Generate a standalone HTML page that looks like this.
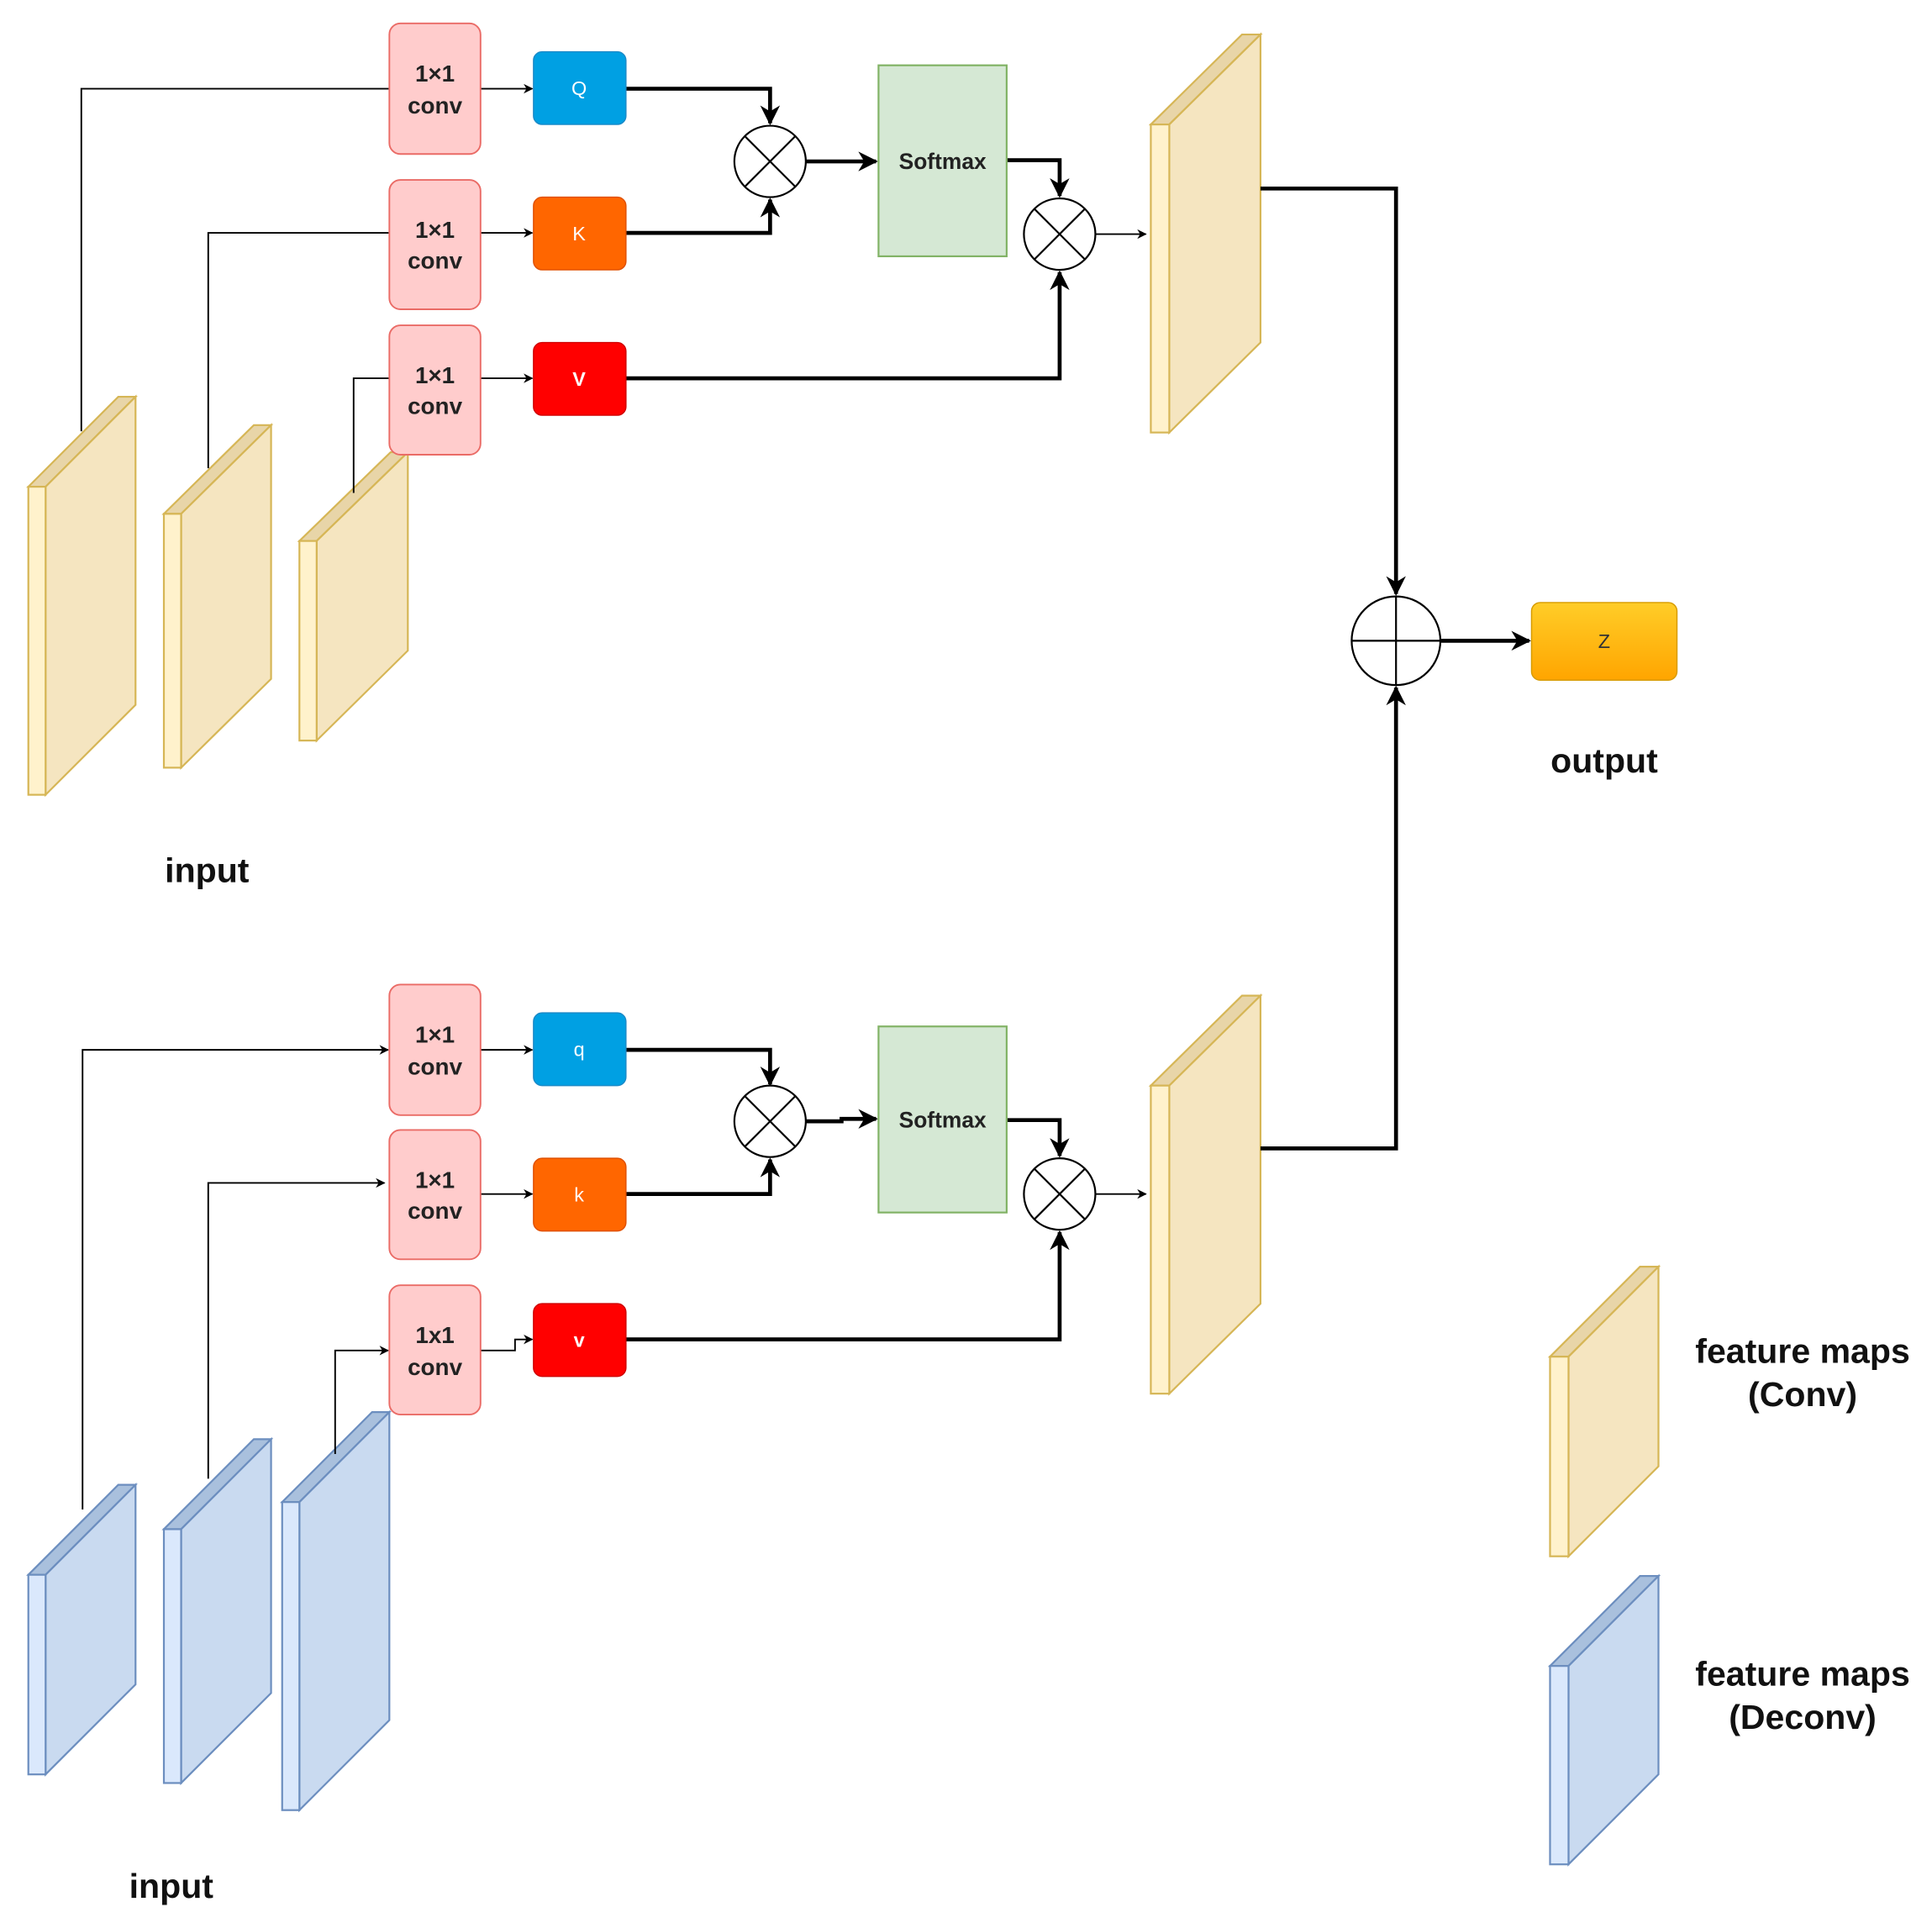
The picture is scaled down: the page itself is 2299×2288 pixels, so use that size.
<!DOCTYPE html>
<html><head><meta charset="utf-8"><style>html,body{margin:0;padding:0;background:#fff}svg{display:block}</style></head>
<body>
<svg width="2299" height="2288" viewBox="0 0 1568 1560.6" preserveAspectRatio="none" xmlns="http://www.w3.org/2000/svg" font-family="Liberation Sans, sans-serif">
<defs>
<marker id="a" viewBox="0 0 10 10" refX="9" refY="5" markerWidth="5" markerHeight="5" orient="auto"><path d="M0,0 L10,5 L0,10 L3,5 z" fill="#000"/></marker>
<marker id="b" viewBox="0 0 10 10" refX="9" refY="5" markerWidth="6" markerHeight="6" orient="auto"><path d="M0,0 L10,5 L0,10 L3,5 z" fill="#000"/></marker>
<linearGradient id="g" x1="0" y1="0" x2="0" y2="1"><stop offset="0" stop-color="#ffcd28"/><stop offset="1" stop-color="#ffa500"/></linearGradient>
</defs>
<g id="maps">
<g stroke="#d6b656" stroke-width="1.5">
<polygon points="23,395 37,395 110,322 96,322" fill="#e8d5a8"/><polygon points="37,395 110,322 110,572 37,645" fill="#f5e5c0"/><rect x="23" y="395" width="14" height="250" fill="#fff2cc"/>
<polygon points="133,417 147,417 220,345 206,345" fill="#e8d5a8"/><polygon points="147,417 220,345 220,551 147,623" fill="#f5e5c0"/><rect x="133" y="417" width="14" height="206" fill="#fff2cc"/>
<polygon points="243,439 257,439 331,367 317,367" fill="#e8d5a8"/><polygon points="257,439 331,367 331,528 257,601" fill="#f5e5c0"/><rect x="243" y="439" width="14" height="162" fill="#fff2cc"/>
<polygon points="934,101 949,101 1023,28 1008,28" fill="#e8d5a8"/><polygon points="949,101 1023,28 1023,278 949,351" fill="#f5e5c0"/><rect x="934" y="101" width="15" height="250" fill="#fff2cc"/>
<polygon points="934,881 949,881 1023,808 1008,808" fill="#e8d5a8"/><polygon points="949,881 1023,808 1023,1058 949,1131" fill="#f5e5c0"/><rect x="934" y="881" width="15" height="250" fill="#fff2cc"/>
<polygon points="1258,1101 1273,1101 1346,1028 1331,1028" fill="#e8d5a8"/><polygon points="1273,1101 1346,1028 1346,1190 1273,1263" fill="#f5e5c0"/><rect x="1258" y="1101" width="15" height="162" fill="#fff2cc"/>
</g>
<g stroke="#6c8ebf" stroke-width="1.5">
<polygon points="23,1278 37,1278 110,1205 96,1205" fill="#a9c0dd"/><polygon points="37,1278 110,1205 110,1367 37,1440" fill="#c9daf0"/><rect x="23" y="1278" width="14" height="162" fill="#dae8fc"/>
<polygon points="133,1241 147,1241 220,1168 206,1168" fill="#a9c0dd"/><polygon points="147,1241 220,1168 220,1374 147,1447" fill="#c9daf0"/><rect x="133" y="1241" width="14" height="206" fill="#dae8fc"/>
<polygon points="229,1219 243,1219 316,1146 302,1146" fill="#a9c0dd"/><polygon points="243,1219 316,1146 316,1396 243,1469" fill="#c9daf0"/><rect x="229" y="1219" width="14" height="250" fill="#dae8fc"/>
<polygon points="1258,1352 1273,1352 1346,1279 1331,1279" fill="#a9c0dd"/><polygon points="1273,1352 1346,1279 1346,1440 1273,1513" fill="#c9daf0"/><rect x="1258" y="1352" width="15" height="161" fill="#dae8fc"/>
</g>
</g>
<g fill="none" stroke="#000" stroke-width="1.3">
<polyline points="66,350 66,72 316,72"/><polyline points="169,380 169,189 316,189"/><polyline points="287,400 287,307 316,307"/>
<line x1="390" y1="72" x2="432" y2="72" marker-end="url(#b)"/><line x1="390" y1="189" x2="432" y2="189" marker-end="url(#b)"/><line x1="390" y1="307" x2="432" y2="307" marker-end="url(#b)"/>
<line x1="889" y1="190" x2="930" y2="190" marker-end="url(#b)"/>
<polyline points="67,1225 67,852 315,852" marker-end="url(#b)"/><polyline points="169,1200 169,960 312,960" marker-end="url(#b)"/><polyline points="272,1180 272,1096 315,1096" marker-end="url(#b)"/>
<line x1="390" y1="852" x2="432" y2="852" marker-end="url(#b)"/><line x1="390" y1="969" x2="432" y2="969" marker-end="url(#b)"/>
<polyline points="390,1096 418,1096 418,1087 432,1087" marker-end="url(#b)"/>
<line x1="889" y1="969" x2="930" y2="969" marker-end="url(#b)"/>
</g>
<g fill="none" stroke="#000" stroke-width="3.2">
<polyline points="508,72 625,72 625,100" marker-end="url(#a)"/><polyline points="508,189 625,189 625,162" marker-end="url(#a)"/>
<line x1="654" y1="131" x2="711" y2="131" marker-end="url(#a)"/>
<polyline points="817,130 860,130 860,159" marker-end="url(#a)"/><polyline points="508,307 860,307 860,221" marker-end="url(#a)"/>
<polyline points="1023,153 1133,153 1133,482" marker-end="url(#a)"/><polyline points="1023,932 1133,932 1133,558" marker-end="url(#a)"/>
<line x1="1169" y1="520" x2="1241" y2="520" marker-end="url(#a)"/>
<polyline points="508,852 625,852 625,880" marker-end="url(#a)"/><polyline points="508,969 625,969 625,941" marker-end="url(#a)"/>
<polyline points="654,910 683,910 683,908 711,908" marker-end="url(#a)"/>
<polyline points="817,909 860,909 860,938" marker-end="url(#a)"/><polyline points="508,1087 860,1087 860,1000" marker-end="url(#a)"/>
</g>
<g fill="#ffcccc" stroke="#ea6b66" stroke-width="1.3">
<rect x="316" y="19" width="74" height="106" rx="9"/><rect x="316" y="146" width="74" height="105" rx="9"/><rect x="316" y="264" width="74" height="105" rx="9"/>
<rect x="316" y="799" width="74" height="106" rx="9"/><rect x="316" y="917" width="74" height="105" rx="9"/><rect x="316" y="1043" width="74" height="105" rx="9"/>
</g>
<g font-size="19" font-weight="bold" text-anchor="middle" fill="#222">
<text x="353" y="66">1×1</text><text x="353" y="92">conv</text>
<text x="353" y="193">1×1</text><text x="353" y="218">conv</text>
<text x="353" y="311">1×1</text><text x="353" y="336">conv</text>
<text x="353" y="846">1×1</text><text x="353" y="872">conv</text>
<text x="353" y="964">1×1</text><text x="353" y="989">conv</text>
<text x="353" y="1090">1x1</text><text x="353" y="1116">conv</text>
</g>
<rect x="433" y="42" width="75" height="59" rx="7" fill="#00a0e3" stroke="#1b8ac8"/>
<rect x="433" y="160" width="75" height="59" rx="7" fill="#ff6600" stroke="#e05000"/>
<rect x="433" y="278" width="75" height="59" rx="7" fill="#ff0000" stroke="#d00000"/>
<rect x="433" y="822" width="75" height="59" rx="7" fill="#00a0e3" stroke="#1b8ac8"/>
<rect x="433" y="940" width="75" height="59" rx="7" fill="#ff6600" stroke="#e05000"/>
<rect x="433" y="1058" width="75" height="59" rx="7" fill="#ff0000" stroke="#d00000"/>
<g font-size="16" text-anchor="middle" fill="#fff">
<text x="470" y="77">Q</text><text x="470" y="195">K</text><text x="470" y="313" font-weight="bold">V</text>
<text x="470" y="857">q</text><text x="470" y="975">k</text><text x="470" y="1093" font-weight="bold">v</text>
</g>
<rect x="713" y="53" width="104" height="155" fill="#d5e8d4" stroke="#82b366" stroke-width="1.5"/>
<rect x="713" y="833" width="104" height="151" fill="#d5e8d4" stroke="#82b366" stroke-width="1.5"/>
<g font-size="18" font-weight="bold" text-anchor="middle" fill="#222"><text x="765" y="137">Softmax</text><text x="765" y="915">Softmax</text></g>
<g fill="#fff" stroke="#000" stroke-width="1.5">
<circle cx="625" cy="131" r="29"/><path d="M604.5,110.5 L645.5,151.5 M645.5,110.5 L604.5,151.5"/>
<circle cx="860" cy="190" r="29"/><path d="M839.5,169.5 L880.5,210.5 M880.5,169.5 L839.5,210.5"/>
<circle cx="625" cy="910" r="29"/><path d="M604.5,889.5 L645.5,930.5 M645.5,889.5 L604.5,930.5"/>
<circle cx="860" cy="969" r="29"/><path d="M839.5,948.5 L880.5,989.5 M880.5,948.5 L839.5,989.5"/>
<circle cx="1133" cy="520" r="36"/><path d="M1097,520 L1169,520 M1133,484 L1133,556"/>
</g>
<rect x="1243" y="489" width="118" height="63" rx="7" fill="url(#g)" stroke="#d79b00"/>
<text x="1302" y="526" font-size="16" text-anchor="middle" fill="#333">Z</text>
<g font-size="28" font-weight="bold" text-anchor="middle" fill="#111">
<text x="1302" y="627">output</text>
<text x="168" y="716">input</text>
<text x="139" y="1540">input</text>
<text x="1463" y="1106">feature maps</text><text x="1463" y="1141">(Conv)</text>
<text x="1463" y="1368">feature maps</text><text x="1463" y="1403">(Deconv)</text>
</g>
</svg>
</body></html>
